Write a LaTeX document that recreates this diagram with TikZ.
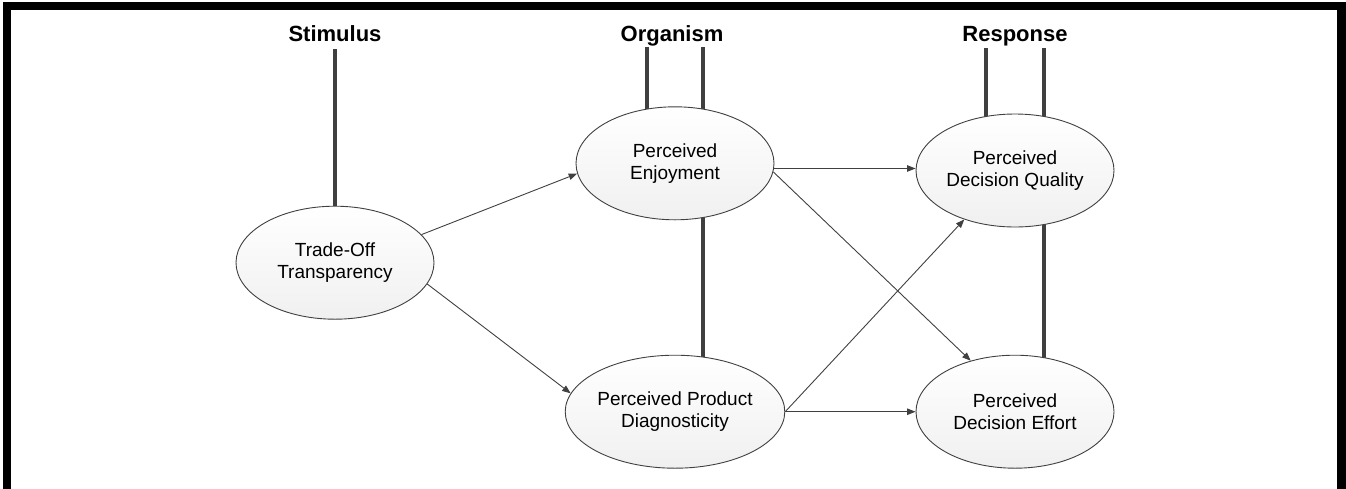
\documentclass[tikz,border=0pt]{standalone}
\usepackage{fontspec}
\setmainfont{Liberation Sans}
\usetikzlibrary{shapes.geometric,arrows.meta}
\pgfdeclarelayer{background}
\pgfsetlayers{background,main}
\definecolor{lineg}{HTML}{404040}
\definecolor{barg}{HTML}{3F3F3F}
\definecolor{fillg}{HTML}{F0F0F0}
\begin{document}
\begin{tikzpicture}[x=1pt,y=-1pt,
  construct/.style={ellipse, draw=lineg, line width=0.9pt, top color=white, bottom color=fillg,
    minimum width=198pt, minimum height=113pt, inner sep=0pt, align=center,
    font=\fontsize{19}{22.4}\selectfont, execute at begin node={\rule{0pt}{23pt}}},
  stagelabel/.style={anchor=base, font=\fontsize{22}{26}\selectfont\bfseries},
  bar/.style={draw=barg, line width=3.2pt},
  arr/.style={draw=lineg, line width=0.9pt, -{Triangle[length=8.5pt,width=6.5pt]}},
  frameline/.style={draw=black, line width=8.5pt, line join=miter},
]
\useasboundingbox (0,0) rectangle (1346,488);
\draw[frameline] (7,492) -- (7,6) -- (1341.5,6) -- (1341.5,492);

% stage labels
\node[stagelabel] (stim) at (335,41) {Stimulus};
\node[stagelabel] (org) at (672,41) {Organism};
\node[stagelabel] (resp) at (1015,41) {Response};

% constructs
\node[construct] (tot) at (335,262.7) {Trade-Off\\Transparency};
\node[construct] (pe)  at (675,163.3) {Perceived\\Enjoyment};
\node[construct] (ppd) at (675,411.7) {Perceived Product\\Diagnosticity};
\node[construct] (pdq) at (1015,170.5) {Perceived\\Decision Quality};
\node[construct] (pde) at (1015,411.7) {Perceived\\Decision Effort};

% bar tops
\coordinate (s1) at (335,49);
\coordinate (o1) at (647,47);
\coordinate (o2) at (703,47);
\coordinate (r1) at (986,48);
\coordinate (r2) at (1044,48);

\begin{pgfonlayer}{background}
\draw[bar] (s1) -- (s1 |- tot.center);
\draw[bar] (o1) -- (o1 |- pe.center);
\draw[bar] (o2) -- (o2 |- ppd.center);
\draw[bar] (r1) -- (r1 |- pdq.center);
\draw[bar] (r2) -- (r2 |- pde.center);
\end{pgfonlayer}

% paths
\draw[arr] (tot.18) -- (pe.186);
\draw[arr] (tot.347) -- (ppd.170);
\draw[arr] (pe.357) -- (pe.357 -| pdq.west);
\draw[arr] (pe.355) -- (pde.131);
\draw[arr] (ppd.east) -- (pdq.224);
\draw[arr] (ppd.east) -- (pde.west);
\end{tikzpicture}
\end{document}
